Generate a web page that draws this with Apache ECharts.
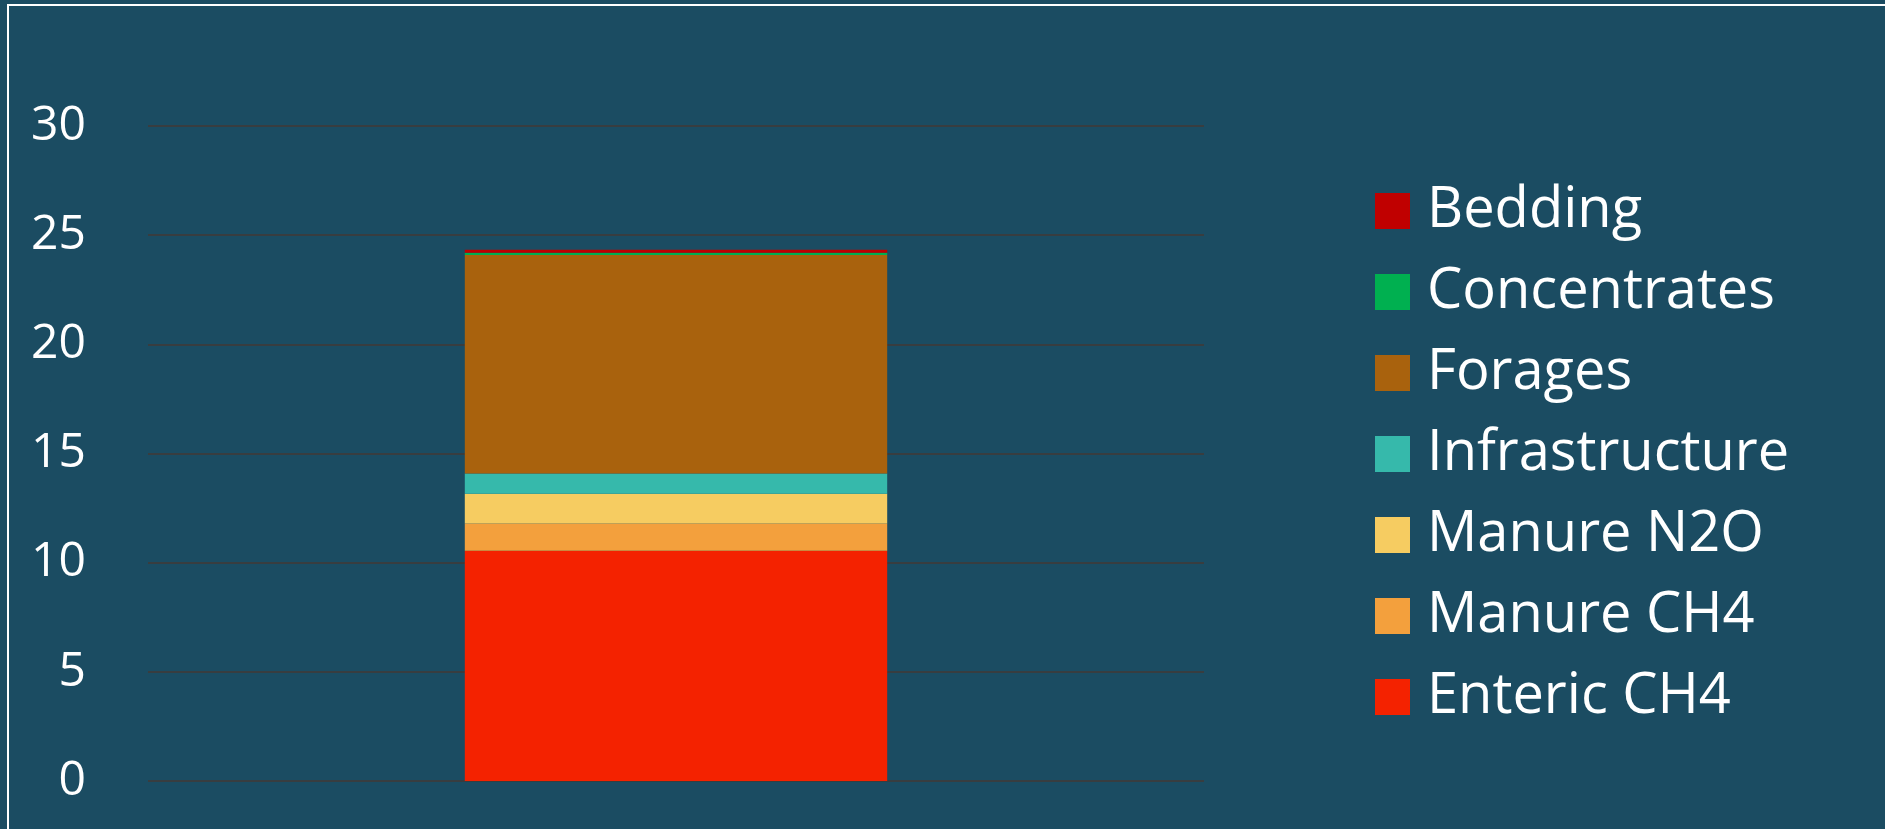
<!DOCTYPE html>
<html>
<head>
<meta charset="utf-8">
<title>Emissions breakdown</title>
<script src="https://cdn.jsdelivr.net/npm/echarts@6/dist/echarts.min.js"></script>
<style>
    html, body { margin: 0; padding: 0; background: #1b4c62; overflow: hidden; }
    #frame {
        position: absolute; left: 7px; top: 4px; width: 1900px; height: 900px;
        border-top: 2px solid #ffffff; border-left: 2px solid #ffffff;
    }
    #chart { position: absolute; left: 0; top: 0; width: 1885px; height: 829px; }
</style>
</head>
<body>
<div id="frame"></div>
<div id="chart"></div>
<script>
    // values
    var categories = [''];
    var enteric = [10.55];
    var manureCH4 = [1.24];
    var manureN2O = [1.37];
    var infrastructure = [0.92];
    var forages = [10.01];
    var concentrates = [0.1];
    var bedding = [0.14];

    var seriesNames = ['Enteric CH4', 'Manure CH4', 'Manure N2O', 'Infrastructure', 'Forages', 'Concentrates', 'Bedding'];
    var seriesData = [enteric, manureCH4, manureN2O, infrastructure, forages, concentrates, bedding];
    var colors = ['#f42200', '#f3a03d', '#f6cc61', '#36b9ab', '#a9620d', '#00b050', '#c00000'];

    var myChart = echarts.init(document.getElementById('chart'));

    var series = seriesNames.map(function (name, i) {
        return {
            name: name,
            type: 'bar',
            stack: 'total',
            barWidth: '40%',
            data: seriesData[i],
            itemStyle: { color: colors[i] }
        };
    });

    var option = {
        backgroundColor: 'transparent',
        animation: false,
        color: colors,
        grid: {
            left: 148,
            right: 681,
            top: 126,
            bottom: 48
        },
        legend: {
            orient: 'vertical',
            left: 1370,
            top: 178,
            itemWidth: 35,
            itemHeight: 36,
            itemGap: 25,
            icon: 'rect',
            data: seriesNames.slice().reverse(),
            textStyle: {
                color: '#ffffff',
                fontFamily: 'Open Sans',
                fontSize: 56,
                lineHeight: 56,
                padding: [0, 0, 0, 12]
            }
        },
        xAxis: {
            type: 'category',
            data: categories,
            axisLine: { show: false },
            axisTick: { show: false },
            axisLabel: { show: false }
        },
        yAxis: {
            type: 'value',
            min: 0,
            max: 30,
            interval: 5,
            axisLine: { show: false },
            axisTick: { show: false },
            axisLabel: {
                color: '#ffffff',
                fontFamily: 'Open Sans',
                fontSize: 48,
                margin: 62,
                padding: [14, 0, 0, 0]
            },
            splitLine: {
                lineStyle: { color: '#383d40', width: 2 }
            }
        },
        series: series
    };

    myChart.setOption(option);
</script>
</body>
</html>
